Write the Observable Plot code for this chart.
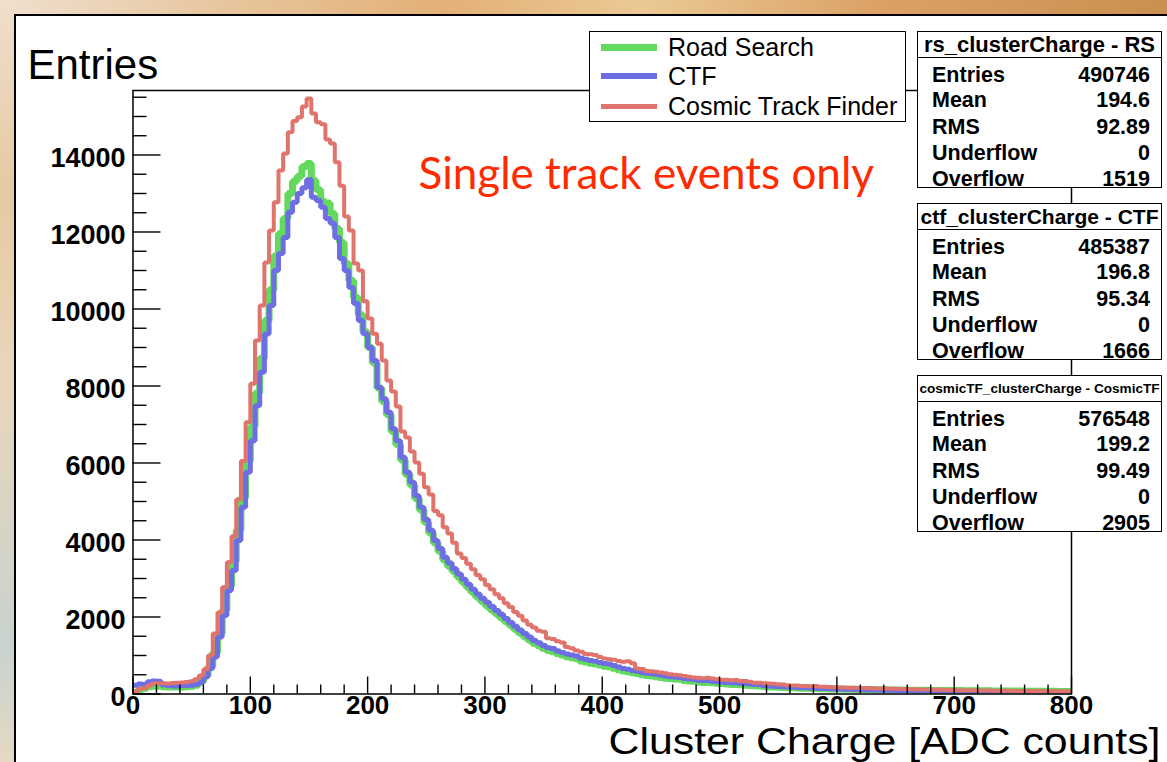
<!DOCTYPE html>
<html><head><meta charset="utf-8">
<script src="https://cdn.jsdelivr.net/npm/d3@7"></script>
<script src="https://cdn.jsdelivr.net/npm/@observablehq/plot@0.6"></script>
<style>
html,body{margin:0;padding:0;}
body{width:1167px;height:762px;overflow:hidden;position:relative;font-family:"Liberation Sans",Arial,Helvetica,sans-serif;
 background:linear-gradient(90deg,#efe0cf 0%,#e8c7a0 18%,#e3b077 38%,#ebc995 55%,#dba266 75%,#c9904f 100%);}
#leftstrip{position:absolute;left:0;top:0;width:14px;height:762px;
 background:linear-gradient(180deg,#efdfcc 0%,#e7c9a2 25%,#e9d6bb 50%,#d6d3c6 70%,#c9d3cf 85%,#e6d8c4 100%);}
#pad{position:absolute;left:14px;top:14px;width:1170px;height:770px;background:#fff;
 border-left:2px solid #000;border-top:2px solid #000;box-sizing:border-box;}
#chart{position:absolute;left:0;top:0;}
.box{position:absolute;background:#fff;border:1px solid #000;box-sizing:border-box;}
.abs{position:absolute;white-space:nowrap;line-height:1;}
</style>
</head>
<body>
<div id="leftstrip"></div>
<div id="pad"></div>
<div id="chart"></div>
<div id="overlay"></div>
<script>
// ---------------- data ----------------
const binWidth = 4;               // ADC counts per bin
const xMin = 0, xMax = 800;
const binEdges = d3.range(xMin, xMax, binWidth);   // 200 bins

const seriesNames = ["Road Search", "CTF", "Cosmic Track Finder"];
const seriesColors = ["#63da5e", "#6d6de4", "#e0736b"];

// Road Search (rs_clusterCharge)
const rsCounts = [
  40,110,150,190,200,200,190,180,180,180,
  185,190,200,230,320,480,720,1080,1580,2180,
  2800,3450,4250,5100,6050,6950,7820,8720,9700,10500,
  11380,11960,12350,13000,13320,13450,13700,13780,13340,13100,
  12790,12750,12480,12090,11730,11180,10740,10300,9850,9400,
  9000,8600,7950,7600,7250,6820,6480,6080,5700,5420,
  5080,4780,4460,4180,3920,3700,3480,3320,3180,3040,
  2900,2770,2640,2520,2410,2300,2190,2090,1990,1890,
  1790,1690,1590,1500,1410,1320,1260,1190,1130,1100,
  1050,1010,970,940,920,860,830,800,780,750,
  720,710,670,630,600,580,550,530,500,480,
  470,450,430,410,400,390,380,350,340,330,
  310,300,300,290,280,270,260,250,250,240,
  230,220,215,205,195,185,180,175,170,165,
  160,155,150,148,145,140,138,135,132,130,
  128,126,124,122,120,118,116,114,112,110,
  108,106,105,104,102,100,99,98,96,95,
  94,93,92,91,90,89,88,87,86,85,
  84,83,82,81,80,79,78,77,76,75,
  74,73,72,71,70,70,69,68,68,67
];
// CTF (ctf_clusterCharge)
const ctfCounts = [
  230,260,250,320,340,330,240,220,210,210,
  220,220,230,250,300,440,660,960,1480,2040,
  2690,3210,3990,4850,5760,6580,7490,8360,9350,10090,
  11000,11440,11860,12510,12770,13000,13150,13360,12900,12820,
  12640,12350,12230,11860,11310,11000,10560,10140,9700,9360,
  9000,8660,7960,7670,7320,6890,6580,6150,5760,5500,
  5150,4850,4530,4250,3990,3780,3550,3400,3250,3120,
  2980,2850,2720,2600,2490,2380,2270,2170,2070,1960,
  1860,1760,1660,1570,1480,1390,1330,1260,1200,1180,
  1120,1080,1040,1010,990,930,900,870,850,820,
  790,780,740,700,660,640,610,590,560,540,
  530,510,490,470,450,440,430,400,390,380,
  360,350,350,330,320,310,300,290,290,280,
  270,260,250,240,220,210,200,195,190,180,
  175,170,165,160,155,150,145,140,135,132,
  130,126,122,120,116,112,110,106,104,100,
  98,95,92,90,88,85,82,80,78,76,
  75,72,70,68,66,65,63,62,60,58,
  57,56,55,54,52,51,50,49,48,47,
  46,45,44,44,43,42,42,41,40,40
];
// Cosmic Track Finder (cosmicTF_clusterCharge)
const cosmicCounts = [
  50,130,150,220,270,280,280,275,285,290,
  300,310,330,380,480,640,1000,1570,2120,2770,
  3420,4100,5050,6050,7060,8060,9180,10090,11210,12040,
  12770,13600,14040,14590,14880,14980,15260,15470,15080,14850,
  14800,14400,14300,13810,13200,12400,12040,11180,11000,10200,
  9750,9360,9100,8660,8140,7860,7470,6820,6660,6300,
  6010,5720,5370,5180,4750,4640,4330,4170,3930,3650,
  3530,3380,3240,3090,2980,2830,2720,2590,2490,2360,
  2260,2130,2030,1910,1800,1730,1640,1620,1450,1430,
  1370,1340,1220,1190,1130,1100,1040,1030,1010,960,
  920,900,890,860,840,850,800,660,650,600,
  590,580,560,540,510,500,490,470,450,430,
  420,410,420,400,380,370,370,360,365,340,
  335,320,290,290,280,275,265,255,245,230,
  220,220,210,205,200,205,190,190,180,178,
  170,168,165,160,160,155,150,150,145,142,
  140,138,135,130,130,125,122,120,118,115,
  112,110,108,105,104,100,98,96,95,92,
  90,90,88,86,85,83,82,80,80,78,
  77,76,75,74,73,72,71,70,70,68
];

const xMajorTicks = [0,100,200,300,400,500,600,700,800];
const xMinorTicks = d3.range(0, 801, 20).filter(v => v % 100 !== 0);
const yMajorTicks = [0,2000,4000,6000,8000,10000,12000,14000];
const yMinorTicks = d3.range(0, 15676, 500).filter(v => v % 2000 !== 0);
const yMax = 15675;

const statTitles = ["rs_clusterCharge - RS", "ctf_clusterCharge - CTF", "cosmicTF_clusterCharge - CosmicTF"];
const statLabels = ["Entries", "Mean", "RMS", "Underflow", "Overflow"];
const rsStats = ["490746", "194.6", "92.89", "0", "1519"];
const ctfStats = ["485387", "196.8", "95.34", "0", "1666"];
const cosmicStats = ["576548", "199.2", "99.49", "0", "2905"];

const yTitle = "Entries";
const xTitle = "Cluster Charge [ADC counts]";
const note = "Single track events only";

// ---------------- build ----------------
function toSteps(counts) {
  const pts = counts.map((v, i) => ({x: binEdges[i], y: v}));
  pts.push({x: xMax, y: counts[counts.length - 1]});
  return pts;
}
const W = 1167, H = 762;
const mL = 132.5, mT = 90, mR = 96, mB = 68.5;
const plotW = W - mL - mR, plotH = H - mT - mB;
const font = "Liberation Sans, Arial, Helvetica, sans-serif";

const chart = Plot.plot({
  width: W, height: H,
  marginLeft: mL, marginTop: mT, marginRight: mR, marginBottom: mB,
  style: {background: "transparent", fontFamily: font, overflow: "visible"},
  x: {domain: [xMin, xMax]},
  y: {domain: [0, yMax]},
  marks: [
    Plot.line(toSteps(rsCounts), {x: "x", y: "y", curve: "step-after", stroke: seriesColors[0], strokeWidth: 7, strokeLinejoin: "miter", clip: true}),
    Plot.line(toSteps(ctfCounts), {x: "x", y: "y", curve: "step-after", stroke: seriesColors[1], strokeWidth: 5, strokeLinejoin: "miter", clip: true}),
    Plot.line(toSteps(cosmicCounts), {x: "x", y: "y", curve: "step-after", stroke: seriesColors[2], strokeWidth: 4, strokeLinejoin: "miter", clip: true}),
    Plot.tickX(xMinorTicks, {x: d => d, insetTop: plotH - 9, stroke: "#000", strokeWidth: 1.4}),
    Plot.tickX(xMajorTicks, {x: d => d, insetTop: plotH - 17, stroke: "#000", strokeWidth: 1.4}),
    Plot.tickY(yMinorTicks, {y: d => d, insetRight: plotW - 14, stroke: "#000", strokeWidth: 1.4}),
    Plot.tickY(yMajorTicks, {y: d => d, insetRight: plotW - 28, stroke: "#000", strokeWidth: 1.4}),
    Plot.axisX({ticks: xMajorTicks, tickSize: 0, tickPadding: 2, label: null, tickFormat: d => String(d), fontSize: 26, fontWeight: "bold", fill: "#000"}),
    Plot.axisY({ticks: yMajorTicks, tickSize: 0, tickPadding: 7.5, label: null, tickFormat: d => String(d), fontSize: 27, fontWeight: "bold", fill: "#000", dy: 3}),
    Plot.frame({stroke: "#000", strokeWidth: 1.5}),
    Plot.text([yTitle], {text: d => d, frameAnchor: "top-left", dx: 27 - mL, dy: 78 - mT, textAnchor: "start", lineAnchor: "bottom", fontSize: 42, fill: "#000"}),
    Plot.text([xTitle], {text: d => d, frameAnchor: "bottom-right", dx: 1160 - (W - mR), dy: 753.8 - (H - mB), textAnchor: "end", lineAnchor: "bottom", fontSize: 37.5, fill: "#000"}),
    Plot.text([note], {text: d => d, frameAnchor: "top-left", dx: 418 - mL, dy: 188 - mT, textAnchor: "start", lineAnchor: "bottom", fontSize: 44, fill: "#ff2a00", fontFamily: "Lato"})
  ]
});
document.getElementById("chart").appendChild(chart);
// stretch the x title horizontally to the reference width (keeps it inside the picture)
d3.select(chart).selectAll("text").filter(function () { return this.textContent === xTitle; })
  .attr("textLength", 552).attr("lengthAdjust", "spacingAndGlyphs");

// ---------------- legend & stat boxes ----------------
const ov = document.getElementById("overlay");
function el(tag, cls, style, text) {
  const e = document.createElement(tag);
  if (cls) e.className = cls;
  Object.assign(e.style, style);
  if (text != null) e.textContent = text;
  return e;
}
// legend
const leg = el("div", "box", {left: "589px", top: "31px", width: "317px", height: "91px"});
const legRowY = [15, 44, 74];
const legLW = [7, 6, 5];
seriesNames.forEach((name, i) => {
  leg.appendChild(el("div", "abs", {left: "11px", top: (legRowY[i] - legLW[i] / 2) + "px", width: "56px", height: legLW[i] + "px", background: seriesColors[i]}));
  leg.appendChild(el("div", "abs", {left: "78px", top: (legRowY[i] - 13) + "px", fontSize: "25px", color: "#000", height: "26px", lineHeight: "26px"}, name));
});
ov.appendChild(leg);

// stat boxes
const statTops = [31, 203, 375];
const statTitleSizes = [22, 21, 13.6];
const statData = [rsStats, ctfStats, cosmicStats];
statTops.forEach((top, b) => {
  const box = el("div", "box", {left: "917px", top: top + "px", width: "245px", height: "157px"});
  const head = el("div", "abs", {left: "0px", top: "0px", width: "243px", height: "25px", borderBottom: "1px solid #000",
    textAlign: "center", fontWeight: "bold", fontSize: statTitleSizes[b] + "px", lineHeight: "26px"}, statTitles[b]);
  box.appendChild(head);
  const rowC = [43, 68, 95, 121, 147];
  statLabels.forEach((lab, r) => {
    box.appendChild(el("div", "abs", {left: "14px", top: (rowC[r] - 12) + "px", height: "24px", lineHeight: "24px", fontWeight: "bold", fontSize: "21.5px"}, lab));
    box.appendChild(el("div", "abs", {right: "11px", top: (rowC[r] - 12) + "px", height: "24px", lineHeight: "24px", fontWeight: "bold", fontSize: "21.5px", textAlign: "right"}, statData[b][r]));
  });
  ov.appendChild(box);
});
</script>
</body></html>
